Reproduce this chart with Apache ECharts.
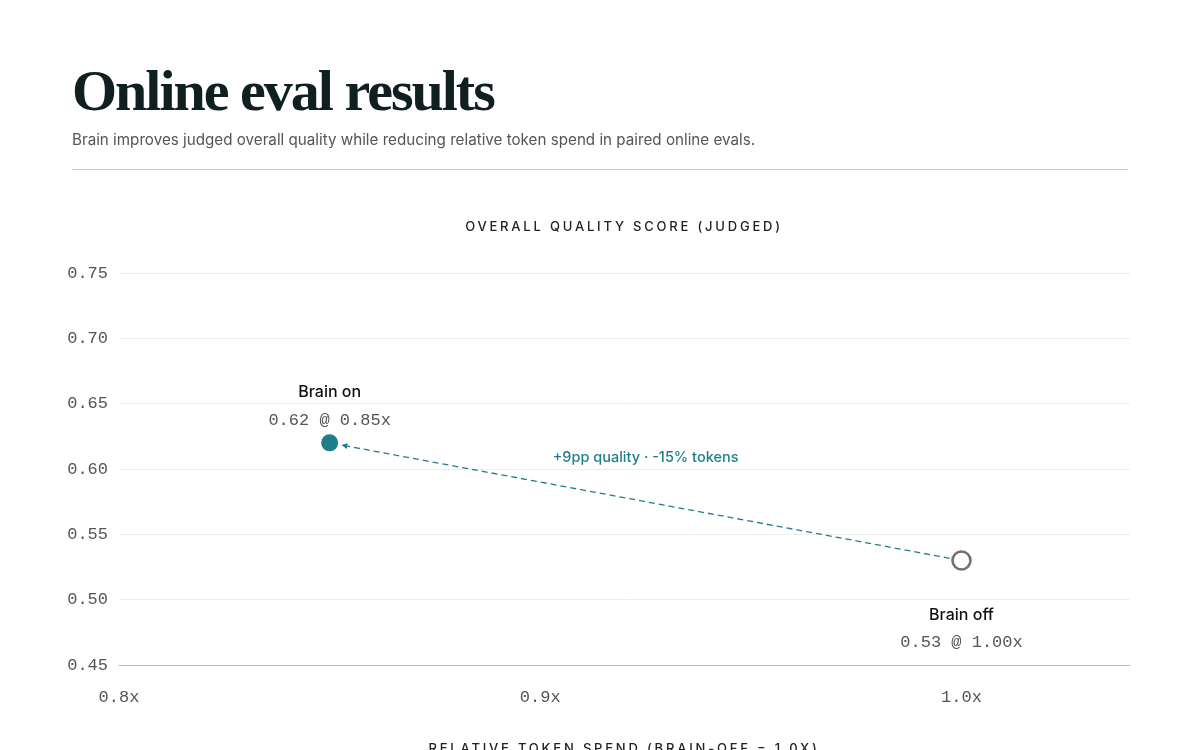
<!DOCTYPE html>
<html>
<head>
<meta charset="utf-8">
<script src="https://cdn.jsdelivr.net/npm/echarts@6/dist/echarts.min.js"></script>
<style>
  html, body { margin: 0; padding: 0; background: #fff; }
  #wrap { position: relative; width: 1200px; height: 750px; overflow: hidden; }
  #chart { position: absolute; left: 0; top: 0; width: 1200px; height: 750px; }
  .title { position: absolute; left: 72px; top: 56px; font-family: "Liberation Serif", serif; font-weight: bold;
           font-size: 58px; letter-spacing: -2px; color: #102020; line-height: 70px; }
  .sub { position: absolute; left: 72px; top: 130px; font-family: Inter, sans-serif; font-size: 15.2px; color: #555; }
  .rule { position: absolute; left: 72px; top: 169px; width: 1056px; height: 0; border-top: 1.5px solid #cfccc6; }
  .axt { position: absolute; left: 0; width: 1248px; text-align: center; font-family: Inter, sans-serif;
         font-size: 13px; font-weight: 500; letter-spacing: 2.8px; color: #222; }
</style>
</head>
<body>
<div id="wrap">
  <div id="chart"></div>
  <div class="title">Online eval results</div>
  <div class="sub">Brain improves judged overall quality while reducing relative token spend in paired online evals.</div>
  <div class="rule"></div>
  <div class="axt" style="top:218px">OVERALL QUALITY SCORE (JUDGED)</div>
  <div class="axt" style="top:740px">RELATIVE TOKEN SPEND (BRAIN-OFF = 1.0X)</div>
</div>
<script>
// data
var names = ['Brain on', 'Brain off'];
var tokenSpend = [0.85, 1.00];
var quality = [0.62, 0.53];
var deltaText = '+9pp quality · -15% tokens';

var teal = '#1e7f8b';
var grey = '#77716b';

var myChart = echarts.init(document.getElementById('chart'));

function valueText(i) {
	return quality[i].toFixed(2) + ' @ ' + tokenSpend[i].toFixed(2) + 'x';
}

var option = {
	animation: false,
	grid: {
		left: 119,
		right: 70,
		top: 273,
		bottom: 85
	},
	xAxis: {
		type: 'value',
		min: 0.8,
		max: 1.04,
		interval: 0.1,
		axisLine: { show: true, lineStyle: { color: '#bdbab5', width: 1.2 } },
		axisTick: { show: false },
		splitLine: { show: false },
		axisLabel: {
			margin: 24,
			fontFamily: 'Liberation Mono',
			fontSize: 17,
			color: '#555',
			formatter: function (v) {
				return Math.abs(v * 10 - Math.round(v * 10)) < 1e-6 ? v.toFixed(1) + 'x' : '';
			}
		}
	},
	yAxis: {
		type: 'value',
		min: 0.45,
		max: 0.75,
		interval: 0.05,
		axisLine: { show: false },
		axisTick: { show: false },
		splitLine: { lineStyle: { color: '#efede9', width: 1 } },
		axisLabel: {
			margin: 11,
			fontFamily: 'Liberation Mono',
			fontSize: 17,
			color: '#555',
			formatter: function (v) { return v.toFixed(2); }
		}
	},
	series: [{
		type: 'custom',
		silent: true,
		z: 1,
		data: [[tokenSpend[1], quality[1], tokenSpend[0], quality[0]]],
		renderItem: function (params, api) {
			var a = api.coord([api.value(0), api.value(1)]);
			var b = api.coord([api.value(2), api.value(3)]);
			var dx = b[0] - a[0], dy = b[1] - a[1];
			var len = Math.sqrt(dx * dx + dy * dy);
			var ux = dx / len, uy = dy / len;
			var s = [a[0] + ux * 12, a[1] + uy * 12];
			var e = [b[0] - ux * 12, b[1] - uy * 12];
			var hl = 6, hw = 3;
			var base = [e[0] - ux * hl, e[1] - uy * hl];
			return {
				type: 'group',
				children: [{
					type: 'line',
					shape: { x1: s[0], y1: s[1], x2: base[0], y2: base[1] },
					style: { stroke: teal, lineWidth: 1.3, lineDash: [6, 4] }
				}, {
					type: 'polygon',
					shape: { points: [e, [base[0] - uy * hw, base[1] + ux * hw], [base[0] + uy * hw, base[1] - ux * hw]] },
					style: { fill: teal }
				}, {
					type: 'text',
					x: (a[0] + b[0]) / 2,
					y: (a[1] + b[1]) / 2 - 44,
					style: {
						text: deltaText,
						fill: teal,
						fontFamily: 'Inter',
						fontSize: 14.5,
						fontWeight: 500,
						align: 'center',
						verticalAlign: 'middle'
					}
				}]
			};
		}
	}, {
		type: 'scatter',
		z: 3,
		emphasis: { disabled: true },
		data: [{
			value: [tokenSpend[0], quality[0]],
			symbolSize: 17,
			itemStyle: { color: teal, opacity: 1 },
			label: { position: 'top', distance: 0 }
		}, {
			value: [tokenSpend[1], quality[1]],
			symbolSize: 18,
			itemStyle: { color: '#fff', borderColor: grey, borderWidth: 2.6, opacity: 1 },
			label: { position: 'bottom', distance: 30 }
		}],
		label: {
			show: true,
			formatter: function (p) {
				return '{n|' + names[p.dataIndex] + '}\n{v|' + valueText(p.dataIndex) + '}';
			},
			rich: {
				n: { fontFamily: 'Inter', fontSize: 16, fontWeight: 500, color: '#111', lineHeight: 28, align: 'center' },
				v: { fontFamily: 'Liberation Mono', fontSize: 17, color: '#555', lineHeight: 28, align: 'center' }
			}
		}
	}]
};

myChart.setOption(option);
</script>
</body>
</html>
